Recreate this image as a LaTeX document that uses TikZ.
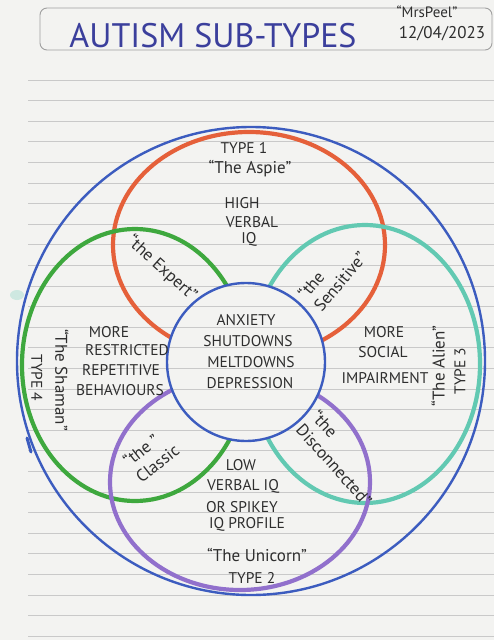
\documentclass[tikz,border=0pt]{standalone}
\usepackage{fontspec}
\setmainfont{PT Sans}
\definecolor{paper}{HTML}{F3F3F1}
\definecolor{rulec}{HTML}{C9C9C9}
\definecolor{ringblue}{HTML}{3C5CBF}
\definecolor{porange}{HTML}{E5603A}
\definecolor{pgreen}{HTML}{3EA83E}
\definecolor{pteal}{HTML}{62C9B2}
\definecolor{ppurple}{HTML}{9170CC}
\definecolor{ink}{HTML}{2E2E2E}
\definecolor{titleblue}{HTML}{3B3F9C}
\definecolor{framec}{HTML}{A0A0A0}
\tikzset{
  rulestyle/.style={draw=rulec, line width=0.8pt},
  ring/.style={draw=ringblue, line width=2.4pt},
  petal/.style={line width=4.2pt},
  hand/.style={text=ink, font=\fontsize{15.5}{20}\selectfont, inner sep=0pt, align=center},
  quote/.style={text=ink, font=\fontsize{17}{20}\selectfont, inner sep=0pt, align=center},
  quotel/.style={text=ink, font=\fontsize{17}{20}\selectfont, inner sep=0pt, align=left},
  titletext/.style={text=titleblue, font=\fontsize{34}{36}\selectfont, inner sep=0pt},
  signtext/.style={text=ink, inner sep=0pt},
}
\begin{document}
\begin{tikzpicture}[x=1pt,y=-1pt]
\useasboundingbox (0,0) rectangle (494,640);
\fill[paper] (0,0) rectangle (494,640);
\foreach \k in {0,...,27}{\draw[rulestyle] (28,{80+20.6*\k}) -- (494,{80+20.6*\k});}
% stray marks
\fill[pteal, opacity=0.25] (17,295) ellipse (7pt and 5pt);
% title box
\draw[draw=framec, line width=0.9pt, rounded corners=7pt] (40,8) rectangle (492,50);
\node[titletext] (title) at (213,36) {AUTISM SUB-TYPES};
\node[signtext, font=\fontsize{15}{16}\selectfont] (sign) at (427,12) {“MrsPeel”};
\node[signtext, font=\fontsize{17}{18}\selectfont] (date) at (442,34) {12/04/2023};
% outer ring
\draw[ring] (251,361) circle (234pt);
% petals
\draw[petal, draw=porange] (249,245) ellipse (136pt and 113pt);
\draw[petal, draw=pgreen] (135,365) ellipse (113pt and 136pt);
\draw[petal, draw=pteal] (365,364) ellipse (115pt and 139pt);
\draw[petal, draw=ppurple] (240,482) ellipse (130pt and 108pt);
\draw[draw=ringblue, line width=3pt, line cap=round] (27,438) -- (31,452);
% centre
\fill[paper] (246,362) circle (79pt);
\begin{scope}
\clip (246,362) circle (79pt);
\foreach \k in {0,...,27}{\draw[rulestyle] (28,{80+20.6*\k}) -- (494,{80+20.6*\k});}
\end{scope}
\draw[ring] (246,362) circle (79pt);
% type 1
\node[hand] (t1a) at (244,148) {TYPE 1};
\node[quote] (t1b) at (250,169) {“The Aspie”};
\node[hand] (t1c) at (242,203) {HIGH};
\node[hand] (t1d) at (252,222) {VERBAL};
\node[hand] (t1e) at (249,239) {IQ};
% overlaps
\node[quote, rotate=-42] (expert) at (162,268) {“the Expert”};
\node[quotel, rotate=50] (sensitive) at (332,275) {“the\\Sensitive”};
\node[quotel, rotate=38] (classic) at (151,455) {“the ”\\Classic};
\node[quotel, rotate=-48] (disc) at (342,458) {“the\\Disconnected”};
% type 4
\node[hand] (t4a) at (109,332) {MORE};
\node[hand] (t4b) at (127,350) {RESTRICTED};
\node[hand] (t4c) at (121,370) {REPETITIVE};
\node[hand] (t4d) at (120,390) {BEHAVIOURS};
\node[quote, rotate=-90] (t4e) at (62,380) {“The Shaman”};
\node[hand, rotate=-90] (t4f) at (37,378) {TYPE 4};
% centre
\node[hand] (c1) at (246,320) {ANXIETY};
\node[hand] (c2) at (248,341) {SHUTDOWNS};
\node[hand] (c3) at (251,362) {MELTDOWNS};
\node[hand] (c4) at (250,383) {DEPRESSION};
% type 3
\node[hand] (t3a) at (384,332) {MORE};
\node[hand] (t3b) at (383,352) {SOCIAL};
\node[hand] (t3c) at (385,378) {IMPAIRMENT};
\node[quote, rotate=90] (t3d) at (438,366) {“The Alien”};
\node[hand, rotate=90] (t3e) at (460,371) {TYPE 3};
% type 2
\node[hand] (t2a) at (241,465) {LOW};
\node[hand] (t2b) at (243,486) {VERBAL IQ};
\node[hand] (t2c) at (242,507) {OR SPIKEY};
\node[hand] (t2d) at (247,524) {IQ PROFILE};
\node[quote] (t2e) at (257,555) {“The Unicorn”};
\node[hand] (t2f) at (252,578) {TYPE 2};
\end{tikzpicture}
\end{document}
